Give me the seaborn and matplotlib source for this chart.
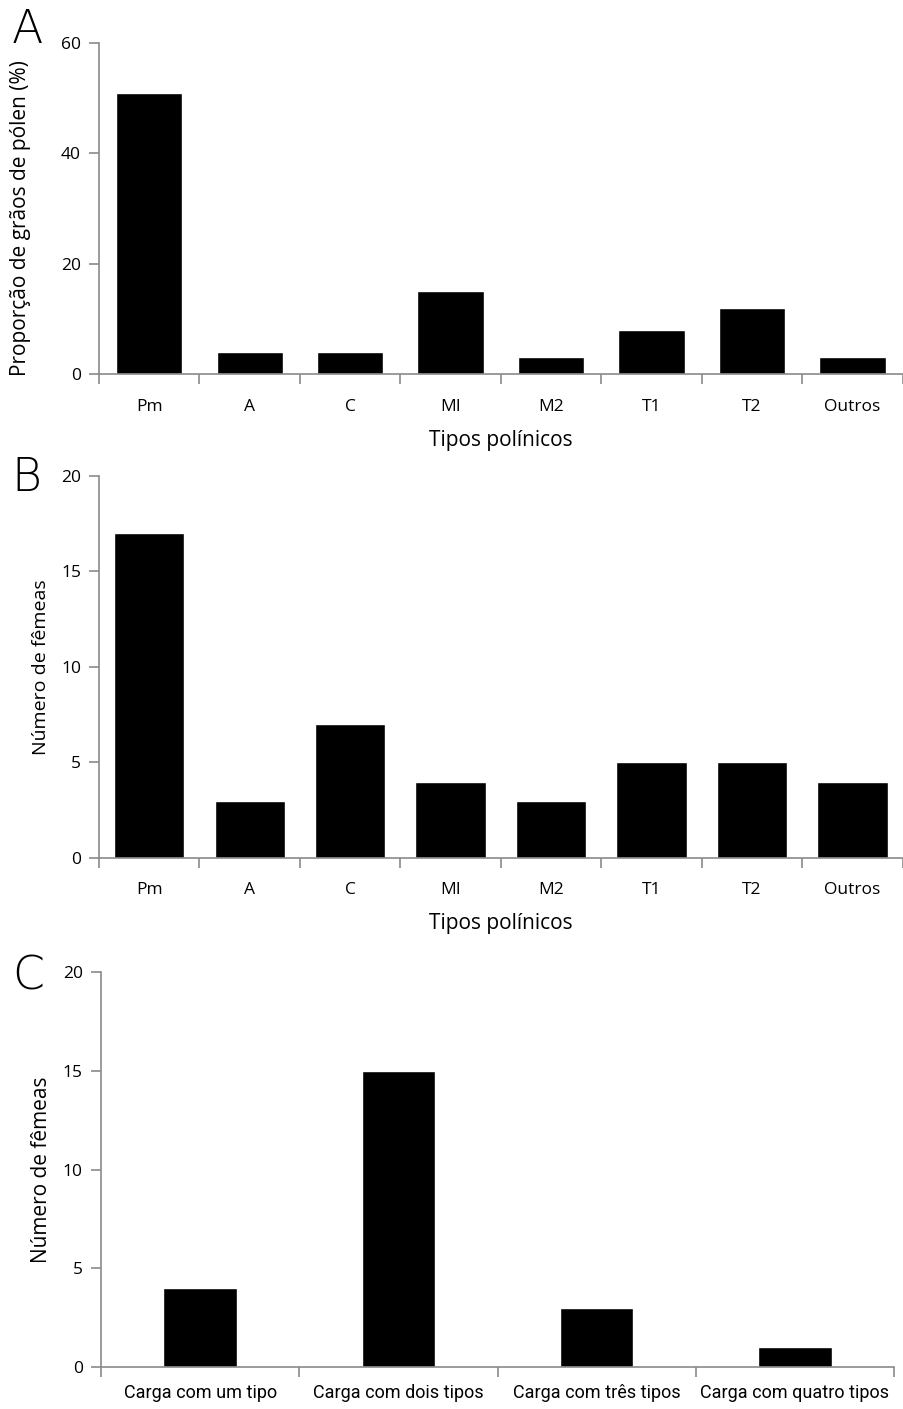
import matplotlib
matplotlib.use("Agg")
import matplotlib.pyplot as plt
import seaborn as sns
import pandas as pd
import numpy as np
from matplotlib.ticker import FixedLocator, NullFormatter

# ---- data ----
tipos = ["Pm", "A", "C", "MI", "M2", "T1", "T2", "Outros"]
proporcao = [51, 4, 4, 15, 3, 8, 12, 3]
femeas_tipo = [17, 3, 7, 4, 3, 5, 5, 4]
cargas = ["Carga com um tipo", "Carga com dois tipos", "Carga com três tipos", "Carga com quatro tipos"]
femeas_carga = [4, 15, 3, 1]

sns.set_theme(style="white")
plt.rcParams['font.family'] = ['Open Sans', 'DejaVu Sans']
plt.rcParams['text.color'] = 'black'
plt.rcParams['axes.labelcolor'] = 'black'
plt.rcParams['xtick.labelcolor'] = 'black'
plt.rcParams['ytick.labelcolor'] = 'black'

fig = plt.figure(figsize=(9.04, 14.09), dpi=100)
axA = fig.add_axes([0.1095, 0.7346, 0.889, 0.2349])
axB = fig.add_axes([0.1095, 0.3911, 0.889, 0.2711])
axC = fig.add_axes([0.1117, 0.0298, 0.8773, 0.2803])

spine_col = "#8a8a8a"

def style(ax, n, ymax, step, xlabel, ylabel, ylabel_size, xpad):
    ax.set_xlim(-0.5, n - 0.5)
    ax.set_ylim(0, ymax)
    ax.set_yticks(np.arange(0, ymax + 0.1, step))
    for s in ["top", "right"]:
        ax.spines[s].set_visible(False)
    for s in ["left", "bottom"]:
        ax.spines[s].set_color(spine_col)
        ax.spines[s].set_linewidth(1.2)
    ax.xaxis.set_minor_locator(FixedLocator(np.arange(-0.5, n, 1.0)))
    ax.xaxis.set_minor_formatter(NullFormatter())
    ax.tick_params(axis="x", which="major", length=0, labelsize=12.5, pad=xpad, labelcolor="black")
    ax.tick_params(axis="x", which="minor", length=7, width=1.2, color=spine_col, direction="out", bottom=True)
    ax.tick_params(axis="y", which="major", length=7, width=1.2, color=spine_col, direction="out", left=True,
                   labelsize=12.5, pad=6, labelcolor="black")
    ax.set_xlabel(xlabel, fontsize=15, labelpad=11, color="black")
    ax.set_ylabel(ylabel, fontsize=ylabel_size, labelpad=8, color="black")
    ax.grid(False)

dfA = pd.DataFrame({"tipo": tipos, "valor": proporcao})
sns.barplot(data=dfA, x="tipo", y="valor", color="black", saturation=1, width=0.66, ax=axA)
style(axA, len(tipos), 60, 20, "Tipos polínicos", "Proporção de grãos de pólen (%)", 15, 18)
axA.yaxis.set_label_coords(-0.085, 0.47)

dfB = pd.DataFrame({"tipo": tipos, "valor": femeas_tipo})
sns.barplot(data=dfB, x="tipo", y="valor", color="black", saturation=1, width=0.70, ax=axB)
style(axB, len(tipos), 20, 5, "Tipos polínicos", "Número de fêmeas", 14, 17)

dfC = pd.DataFrame({"carga": cargas, "valor": femeas_carga})
sns.barplot(data=dfC, x="carga", y="valor", color="black", saturation=1, width=0.37, ax=axC)
style(axC, len(cargas), 20, 5, "", "Número de fêmeas", 15, 12)
for lbl in axC.get_xticklabels():
    lbl.set_family(['Roboto', 'DejaVu Sans'])
    lbl.set_fontsize(13)

for letter, y in [("A", 0.963), ("B", 0.645), ("C", 0.291)]:
    fig.text(0.013, y, letter, fontsize=33, fontweight="light", family=['DejaVu Sans'],
             ha="left", va="bottom", color="black")

fig.savefig("out.png", dpi=100, facecolor="white")
